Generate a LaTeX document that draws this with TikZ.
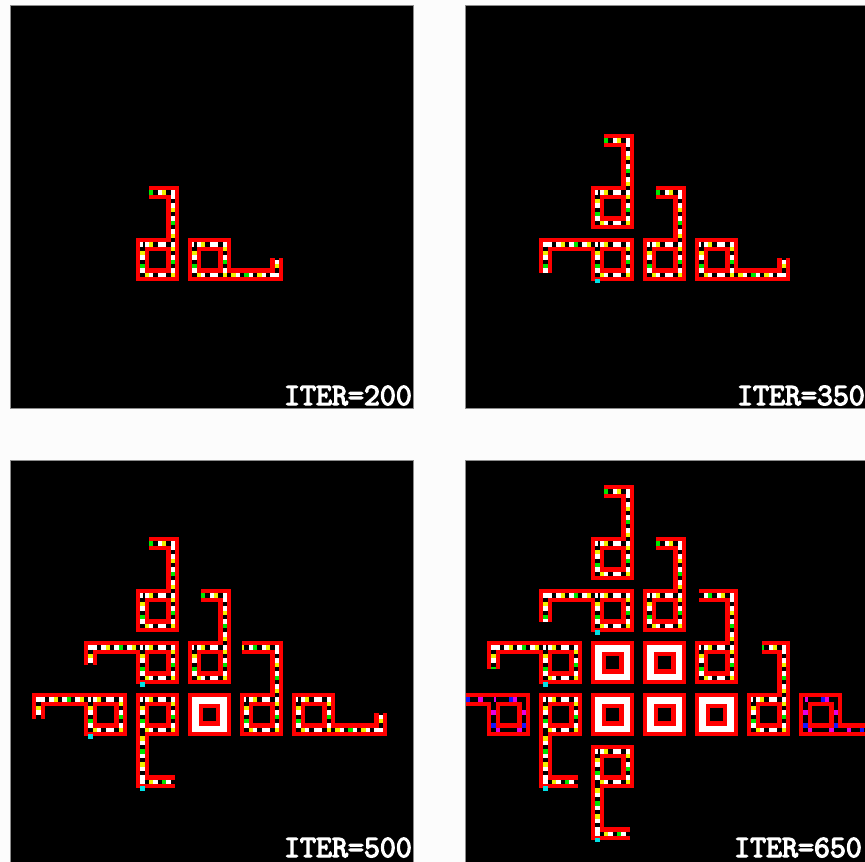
\documentclass[tikz,border=0pt]{standalone}
\usepackage{fontspec}
\newfontfamily\labfont[FakeBold=4]{Latin Modern Mono}
\definecolor{carred}{RGB}{255,0,0}
\definecolor{caryellow}{RGB}{240,240,0}
\definecolor{cargreen}{RGB}{0,230,0}
\definecolor{carcyan}{RGB}{0,225,230}
\definecolor{carblue}{RGB}{20,20,255}
\definecolor{carmag}{RGB}{230,0,230}
\definecolor{frame}{gray}{0.55}

% arms, in cells, from the loop's top-left corner
\newcommand\armu[1]{(8.5,1.5) -- (8.5,-10.5) -- (#1,-10.5)}
\newcommand\arml[1]{(1.5,1.5) -- (-10.5,1.5) -- (-10.5,#1)}
\newcommand\armd[1]{(1.5,8.5) -- (1.5,20.5) -- (#1,20.5)}
\newcommand\armr[1]{(8.5,8.5) -- (20.5,8.5) -- (20.5,#1)}

\def\capass{0}
% live loop with signals
\newcommand\cloop[3]{%
  \begin{scope}[shift={(12*#1,12*#2)}]
    \ifnum\capass=0
      \draw[sheath] (1.5,1.5) rectangle (8.5,8.5) #3;
    \else
      \foreach \st in {corewhite,sigblack,sigyellow,siggreen}
        \draw[\st] (1.5,1.5) rectangle (8.5,8.5) #3;
    \fi
  \end{scope}}
% dead loop
\newcommand\dloop[2]{%
  \begin{scope}[shift={(12*#1,12*#2)}]
    \ifnum\capass=0
      \draw[sheath, line width=15.2pt] (1.75,1.75) rectangle (8.25,8.25);
    \else
      \draw[corewhite, line width=6.5pt] (1.75,1.75) rectangle (8.25,8.25);
    \fi
  \end{scope}}
% colliding loop
\newcommand\ploop[3]{%
  \begin{scope}[shift={(12*#1,12*#2)}]
    \ifnum\capass=0
      \draw[sheath] (1.5,1.5) rectangle (8.5,8.5) #3;
    \else
      \foreach \st in {coreblack,sigmag,sigblue}
        \draw[\st] (1.5,1.5) rectangle (8.5,8.5) #3;
    \fi
  \end{scope}}
\newcommand\cyancell[4]{%
  \ifnum\capass=1 \fill[carcyan] (12*#1+#3,12*#2+#4) rectangle ++(1,1);\fi}

\newcommand\panelA{%
  \cloop{0}{0}{\armu{3}}
  \cloop{1}{0}{\armr{4.5}}}
\newcommand\panelB{%
  \cloop{0}{-1}{\armu{3}}
  \cloop{0}{0}{\arml{8}}
  \cloop{1}{0}{\armu{3}}
  \cloop{2}{0}{\armr{4.5}}
  \cyancell{0}{0}{1}{9.5}}
\newcommand\panelC{%
  \cloop{0}{-2}{\armu{3}}
  \cloop{0}{-1}{\arml{5.5}}
  \cloop{1}{-1}{\armu{3}}
  \cloop{-1}{0}{\arml{6}}
  \cloop{0}{0}{\armd{9}}
  \dloop{1}{0}
  \cloop{2}{0}{\armu{0.5}}
  \cloop{3}{0}{\armr{4.5}}
  \cyancell{0}{-1}{1}{9.5}
  \cyancell{-1}{0}{1}{9.5}
  \cyancell{0}{0}{1}{21.5}}
\newcommand\panelD{%
  \cloop{0}{-3}{\armu{3}}
  \cloop{0}{-2}{\arml{7.5}}
  \cloop{1}{-2}{\armu{3}}
  \cloop{-1}{-1}{\arml{6.5}}
  \dloop{0}{-1}
  \dloop{1}{-1}
  \cloop{2}{-1}{\armu{1}}
  \ploop{-2}{0}{\arml{5}}
  \cloop{-1}{0}{\armd{9}}
  \dloop{0}{0}
  \dloop{1}{0}
  \dloop{2}{0}
  \cloop{3}{0}{\armu{3.5}}
  \ploop{4}{0}{\armr{4.5}}
  \cloop{0}{1}{\armd{9}}
  \cyancell{0}{-2}{1}{9.5}
  \cyancell{-1}{-1}{1}{9.5}
  \cyancell{-1}{0}{1}{21.5}
  \cyancell{0}{1}{1}{21.5}}

% x1 y1 x2 y2 (panel), ox oy (loop 0,0), content
\newcommand\drawpanel[7]{%
  \fill[black] (#1,#2) rectangle (#3,#4);
  \begin{scope}
    \clip (#1,#2) rectangle (#3,#4);
    \begin{scope}[shift={(#5pt,-#6pt)}, x=4.333pt, y=-4.333pt]
      \def\capass{0}#7
      \def\capass{1}#7
    \end{scope}
  \end{scope}
  \draw[frame, line width=0.8pt] (#1,#2) rectangle (#3,#4);}

\begin{document}
\begin{tikzpicture}[
  x=1pt, y=-1pt,
  sheath/.style={draw=carred, line width=13pt, line join=miter, line cap=butt},
  corewhite/.style={draw=white, line width=4.333pt, line join=miter},
  coreblack/.style={draw=black, line width=4.333pt, line join=miter},
  sigblack/.style={draw=black, line width=4.333pt,
                   dash pattern=on 4.333pt off 8.667pt, dash phase=10.833pt},
  sigyellow/.style={draw=caryellow, line width=4.333pt,
                    dash pattern=on 4.333pt off 21.667pt, dash phase=19.5pt},
  siggreen/.style={draw=cargreen, line width=4.333pt,
                   dash pattern=on 4.333pt off 47.667pt, dash phase=32.5pt},
  sigmag/.style={draw=carmag, line width=4.333pt,
                 dash pattern=on 4.333pt off 17.333pt, dash phase=10.833pt},
  sigblue/.style={draw=carblue, line width=4.333pt,
                  dash pattern=on 4.333pt off 34.667pt, dash phase=15.167pt},
  lab/.style={anchor=base east, inner sep=0pt, text=white,
              font=\labfont\fontsize{31}{31}\selectfont},
]
\useasboundingbox (0,0) rectangle (865,862);
\fill[white!99!black] (0,0) rectangle (865,862);

\drawpanel{10}{5}{413}{408}{136}{238}{\panelA}
\drawpanel{465}{5}{865}{408}{591}{238}{\panelB}
\drawpanel{10}{460}{413}{862}{136}{693}{\panelC}
\drawpanel{465}{460}{865}{862}{591}{693}{\panelD}

\node[lab] (lab200) at (412,405) {ITER=200};
\node[lab] (lab350) at (865,405) {ITER=350};
\node[lab] (lab500) at (412,857) {ITER=500};
\node[lab] (lab650) at (862,857) {ITER=650};
\end{tikzpicture}
\end{document}
